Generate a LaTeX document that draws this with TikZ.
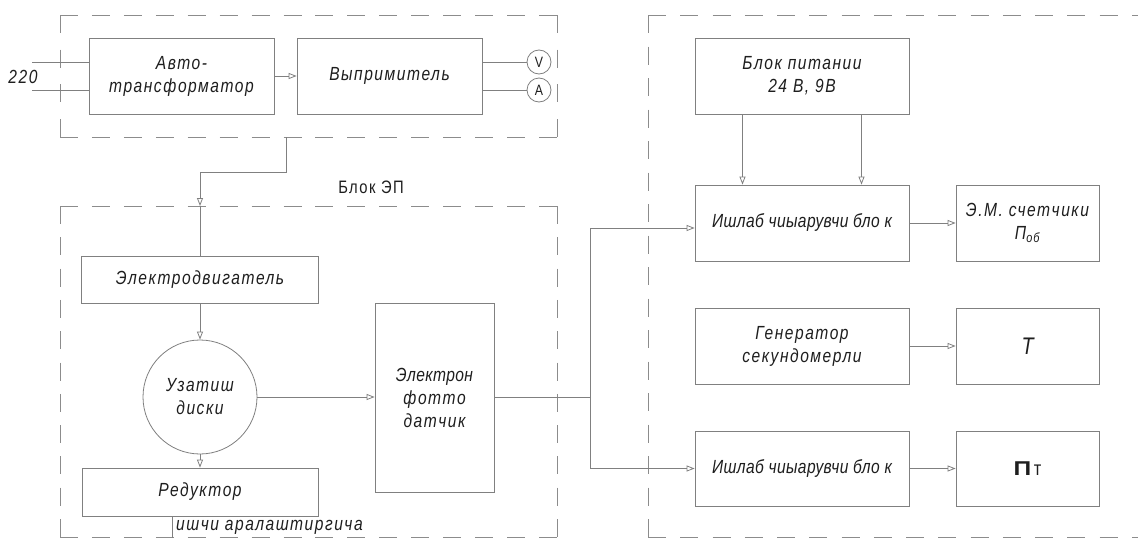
\documentclass[tikz,border=0pt]{standalone}
\usepackage{fontspec}
\usepackage{graphicx}
\setmainfont{Liberation Sans}[FakeStretch=0.82, LetterSpace=8]
\newfontfamily\narrowfont{Liberation Sans}[FakeStretch=0.82, LetterSpace=2]
\usetikzlibrary{arrows.meta}
\definecolor{ln}{HTML}{808080}
\definecolor{fr}{HTML}{8C8C8C}
\definecolor{tx}{HTML}{1E1E1E}
% dashed frame sides drawn as explicit dashes (18 long, gap about 14), a dash at both ends
\newcommand{\hdashes}[3]{%
  \pgfmathsetmacro{\fdL}{#2-#1}%
  \pgfmathtruncatemacro{\fdn}{round((\fdL+14)/32)-1}%
  \pgfmathsetmacro{\fdP}{(\fdL-18)/\fdn}%
  \foreach \i in {0,...,\fdn} {\draw[frame] ({#1+\i*\fdP},#3) -- ({#1+\i*\fdP+18},#3);}}
\newcommand{\vdashes}[3]{%
  \pgfmathsetmacro{\fdL}{#3-#2}%
  \pgfmathtruncatemacro{\fdn}{round((\fdL+14)/32)-1}%
  \pgfmathsetmacro{\fdP}{(\fdL-18)/\fdn}%
  \foreach \i in {0,...,\fdn} {\draw[frame] (#1,{#2+\i*\fdP}) -- (#1,{#2+\i*\fdP+18});}}
\begin{document}
\begin{tikzpicture}[x=1pt,y=-1pt,
  blk/.style={draw=ln, line width=0.8pt, rectangle, inner sep=0pt, align=center, text=tx,
    font=\itshape\fontsize{19}{23}\selectfont},
  nblk/.style={blk, font=\narrowfont\itshape\fontsize{19}{23}\selectfont},
  disk/.style={blk, circle, minimum size=114pt},
  meter/.style={draw=ln, line width=0.8pt, circle, minimum size=24pt, inner sep=0pt, text=tx,
    font=\fontsize{15}{15}\selectfont},
  lbl/.style={inner sep=0pt, text=tx, font=\itshape\fontsize{19}{20}\selectfont},
  ulbl/.style={inner sep=0pt, text=tx, font=\fontsize{18}{20}\selectfont},
  wire/.style={draw=ln, line width=0.8pt},
  arr/.style={draw=ln, line width=0.8pt, -{Triangle[open, length=8pt, width=6pt]}},
  frame/.style={draw=fr, line width=0.9pt, line cap=butt}]
\useasboundingbox (0,0) rectangle (1138,538);
\fill[white] (0,0) rectangle (1138,538);

% dashed frames
\hdashes{60}{557}{15}  \hdashes{60}{557}{137}
\vdashes{60}{15}{137}  \vdashes{557}{15}{137}
\hdashes{60}{557}{206} \hdashes{60}{557}{537}
\vdashes{60}{206}{537} \vdashes{557}{206}{537}
\hdashes{648}{1150}{15} \hdashes{648}{1150}{537}
\vdashes{648}{15}{537}

% top block
\node[blk, minimum width=185pt, minimum height=76pt] (auto) at (181.5,76) {Авто-\\трансформатор};
\node[blk, minimum width=185pt, minimum height=76pt] (vypr) at (389.5,76) {Выпримитель};
\node[meter] (V) at (539,62) {V};
\node[meter] (A) at (539,90) {A};
\node[lbl] (l220) at (23,77) {220};
\node[ulbl] (lep) at (371,187) {Блок ЭП};

% EP block
\node[blk, minimum width=237pt, minimum height=47pt] (motor) at (200,279.5) {Электродвигатель};
\node[disk] (disk) at (200,397) {Узатиш\\диски};
\node[blk, minimum width=236pt, minimum height=48pt] (red) at (200,492) {Редуктор};
\node[blk, minimum width=119pt, minimum height=189pt] (foto) at (434.5,397.5) {{\narrowfont Электрон}\\фотто\\датчик};
\node[lbl, anchor=west] (lout) at (176,527) {ишчи аралаштиргича};

% right side
\node[blk, minimum width=214pt, minimum height=76pt] (pow) at (802,76) {Блок питании\\24 В, 9В};
\node[nblk, minimum width=214pt, minimum height=76pt] (ish1) at (802,223) {Ишлаб чиыарувчи бло к};
\node[blk, minimum width=143pt, minimum height=76pt] (em) at (1027.5,223) {Э.М. счетчики\\П\textsubscript{об}};
\node[blk, minimum width=214pt, minimum height=76pt] (gen) at (802,346) {Генератор\\секундомерли};
\node[blk, minimum width=143pt, minimum height=76pt, font=\itshape\fontsize{24}{24}\selectfont] (T) at (1027.5,346) {T};
\node[nblk, minimum width=214pt, minimum height=75pt] (ish2) at (802,468.5) {Ишлаб чиыарувчи бло к};
\node[blk, minimum width=143pt, minimum height=75pt, font=\fontsize{20}{22}\selectfont] (pt) at (1027.5,468.5) {\scalebox{1.5}[1]{\textbf{П}}т};

% connectors
\coordinate (in1) at (32,62);
\coordinate (in2) at (32,90);
\draw[wire] (in1) -- (in1 -| auto.west);
\draw[wire] (in2) -- (in2 -| auto.west);
\draw[arr] (auto.east) -- (vypr.west);
\draw[wire] (V -| vypr.east) -- (V.west);
\draw[wire] (A -| vypr.east) -- (A.west);
\coordinate (tbo) at (286,137);
\coordinate (bend) at (286,172);
\coordinate (epin) at (200,206);
\draw[arr] (tbo) -- (bend) -| (epin);
\draw[wire] (epin) -- (motor.north);
\draw[arr] (motor.south) -- (disk.north);
\draw[arr] (disk.south) -- (red.north);
\draw[arr] (disk.east) -- (disk.east -| foto.west);
\coordinate (sp) at (590,397);
\draw[wire] (foto.east |- sp) -- (sp);
\draw[arr] (sp) |- ([yshift=-5pt]ish1.west);
\draw[arr] (sp) |- (ish2.west);
\draw[arr] ([xshift=-59.5pt]pow.south) -- ([xshift=-59.5pt]ish1.north);
\draw[arr] ([xshift=59.5pt]pow.south) -- ([xshift=59.5pt]ish1.north);
\draw[arr] (ish1.east) -- (em.west);
\draw[arr] (gen.east) -- (T.west);
\draw[arr] (ish2.east) -- (pt.west);
\coordinate (out) at (172,538);
\draw[wire] (red.south -| out) -- (out);
\end{tikzpicture}
\end{document}
